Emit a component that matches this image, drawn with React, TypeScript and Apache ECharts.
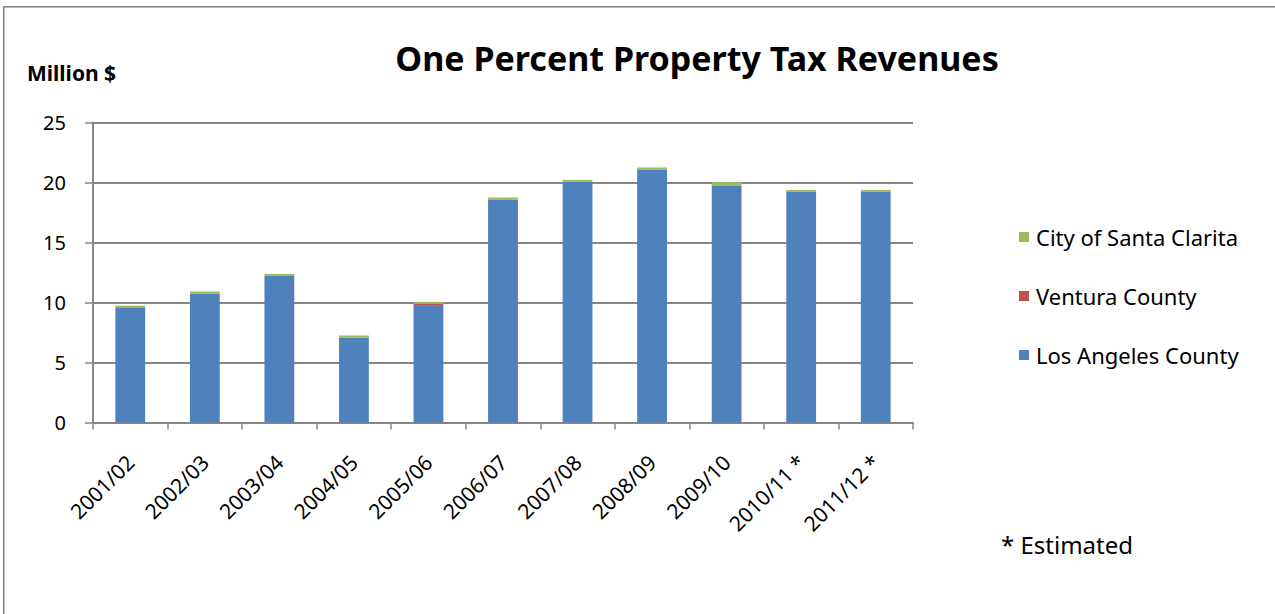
import React, { useEffect, useRef } from "react";
import * as echarts from "echarts";

const categories = ["2001/02", "2002/03", "2003/04", "2004/05", "2005/06", "2006/07", "2007/08", "2008/09", "2009/10", "2010/11 *", "2011/12 *"];
const losAngeles = [9.55, 10.72, 12.22, 7.08, 9.72, 18.55, 20.05, 21.05, 19.72, 19.22, 19.22];
const ventura = [0, 0, 0, 0, 0.17, 0, 0, 0, 0, 0, 0];
const santaClarita = [0.17, 0.2, 0.16, 0.17, 0.16, 0.2, 0.17, 0.2, 0.31, 0.16, 0.16];

const FONT = "'Noto Sans', 'Open Sans', sans-serif";

export default function App() {
  const ref = useRef<HTMLDivElement>(null);
  useEffect(() => {
    if (!ref.current) return;
    const chart = echarts.init(ref.current, null, { renderer: "svg" });
    const mk = (name: string, data: number[], color: string) => ({
      name,
      type: "bar",
      stack: "total",
      data,
      barWidth: "40%",
      itemStyle: { color },
      emphasis: { disabled: true },
    });
    chart.setOption({
      animation: false,
      backgroundColor: "#ffffff",
      textStyle: { fontFamily: FONT },
      title: {
        text: "One Percent Property Tax Revenues",
        left: 692,
        textAlign: "center",
        top: 36,
        textStyle: { fontFamily: FONT, fontSize: 34, fontWeight: "bold", color: "#000" },
      },
      grid: { left: 93, top: 122.5, width: 820, height: 300, containLabel: false },
      legend: {
        orient: "vertical",
        left: 1014,
        top: 221,
        itemWidth: 10,
        itemHeight: 10,
        itemGap: 37,
        icon: "rect",
        data: ["City of Santa Clarita", "Ventura County", "Los Angeles County"],
        textStyle: { fontFamily: FONT, fontSize: 22, color: "#000", padding: [0, 0, 0, 2] },
        selectedMode: false,
      },
      xAxis: {
        type: "category",
        data: categories,
        axisLine: { lineStyle: { color: "#868686", width: 2 } },
        axisTick: { show: true, length: 7, lineStyle: { color: "#868686", width: 1.5 } },
        axisLabel: { rotate: 45, margin: 36, fontSize: 21, color: "#000", fontFamily: FONT, interval: 0 },
      },
      yAxis: {
        type: "value",
        min: 0,
        max: 25,
        interval: 5,
        axisLine: { show: true, lineStyle: { color: "#868686", width: 2 } },
        axisTick: { show: true, length: 8, lineStyle: { color: "#868686", width: 1.5 } },
        splitLine: { lineStyle: { color: "#868686", width: 2 } },
        axisLabel: { margin: 27, fontSize: 20, color: "#000", fontFamily: FONT },
      },
      series: [
        mk("Los Angeles County", losAngeles, "#4F81BD"),
        mk("Ventura County", ventura, "#C0504D"),
        mk("City of Santa Clarita", santaClarita, "#9BBB59"),
      ],
      graphic: [
        {
          type: "rect",
          shape: { x: 3, y: 6, width: 1.5, height: 610 },
          style: { fill: "#7f7f7f" },
          silent: true,
          z: 100,
        },
        {
          type: "rect",
          shape: { x: 3, y: 6, width: 1275, height: 1.5 },
          style: { fill: "#7f7f7f" },
          silent: true,
          z: 100,
        },
        {
          type: "text",
          left: 27,
          top: 62,
          style: { text: "Million $", fontFamily: FONT, fontSize: 21, fontWeight: "bold", fill: "#000" },
        },
        {
          type: "text",
          left: 1001,
          top: 532,
          style: { text: "* Estimated", fontFamily: FONT, fontSize: 24, fill: "#000" },
        },
      ],
    });
    return () => chart.dispose();
  }, []);
  return <div ref={ref} style={{ position: "absolute", left: 0, top: 0, width: 1275, height: 614 }} />;
}
